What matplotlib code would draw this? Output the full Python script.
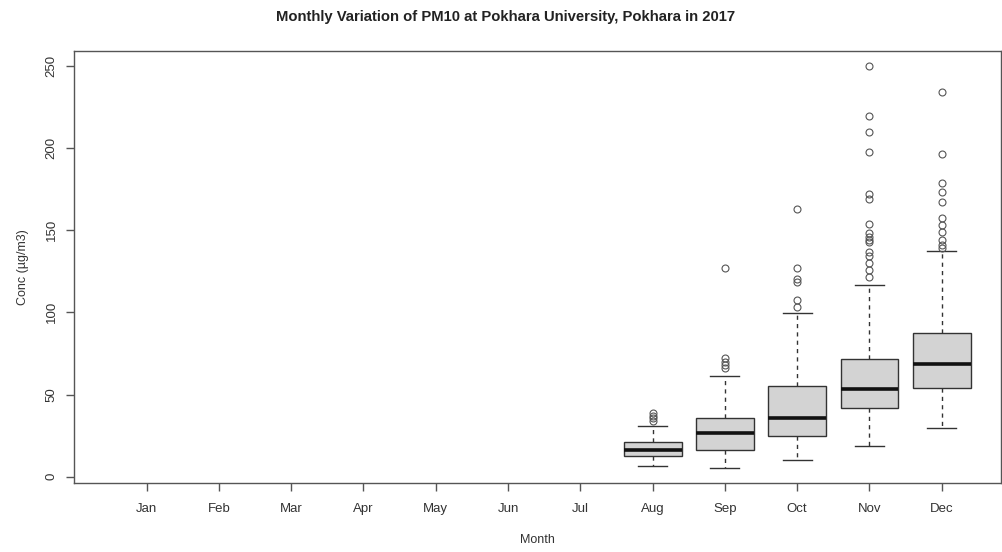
import matplotlib
matplotlib.use("Agg")
import matplotlib.pyplot as plt

plt.rcParams["font.family"] = ["Liberation Sans", "DejaVu Sans"]

months = ["Jan", "Feb", "Mar", "Apr", "May", "Jun",
          "Jul", "Aug", "Sep", "Oct", "Nov", "Dec"]

# box stats for months with data (Aug..Dec)
data_months = ["Aug", "Sep", "Oct", "Nov", "Dec"]
whis_lo = [6.7, 5.5, 10.2, 18.7, 29.5]
q1 = [12.8, 16.3, 24.8, 41.8, 54.2]
median = [16.5, 26.5, 36.0, 53.5, 68.5]
q3 = [21.0, 35.9, 55.4, 71.4, 87.3]
whis_hi = [31.0, 61.3, 99.4, 116.7, 137.4]
outliers = [
    [34, 35.5, 37, 39],
    [66, 68, 70, 72, 127],
    [103.5, 107.5, 118.7, 120, 126.8, 162.8],
    [121.7, 125.8, 130, 134, 136.6, 143, 144, 146, 148, 153.6,
     169, 171.9, 197.8, 209.6, 219.3, 250],
    [139.4, 141, 144.1, 148.8, 153.2, 157.6, 167.4, 173.1, 178.6,
     196.6, 234.3],
]

stats = []
for i, m in enumerate(data_months):
    stats.append({
        "label": m,
        "whislo": whis_lo[i], "q1": q1[i], "med": median[i],
        "q3": q3[i], "whishi": whis_hi[i], "fliers": outliers[i],
    })
positions = [months.index(m) + 1 for m in data_months]

fig = plt.figure(figsize=(10.03, 5.52), dpi=100)
ax = fig.add_axes([0.0741, 0.1245, 0.9239, 0.7831])

edge = "#333333"
ax.bxp(
    stats, positions=positions, widths=0.8, patch_artist=True,
    boxprops=dict(facecolor="#d3d3d3", edgecolor=edge, linewidth=1.0),
    medianprops=dict(color="#111111", linewidth=2.6, solid_capstyle="butt"),
    whiskerprops=dict(color=edge, linewidth=1.0, linestyle=(0, (3, 3))),
    capprops=dict(color=edge, linewidth=1.0),
    flierprops=dict(marker="o", markersize=5, markerfacecolor="none",
                    markeredgecolor="#555555", markeredgewidth=0.8),
    capwidths=0.4,
)

ax.set_xlim(0, 12.82)
ax.set_ylim(-4, 259)
ax.set_xticks(range(1, 13))
ax.set_xticklabels(months)
ax.set_yticks([0, 50, 100, 150, 200, 250])
ax.set_yticklabels(["0", "50", "100", "150", "200", "250"], rotation=90,
                   va="center")

for s in ["top", "right", "left", "bottom"]:
    ax.spines[s].set_color("#555555")
    ax.spines[s].set_linewidth(1.0)
ax.tick_params(colors="#555555", labelcolor="#333333", labelsize=9.5,
               length=6, width=1.0)
ax.tick_params(axis="x", pad=8)
ax.tick_params(axis="y", pad=6)

ax.set_xlabel("Month", fontsize=9, color="#333333", labelpad=14)
ax.set_ylabel("Conc (\u00b5g/m3)", fontsize=9, color="#333333", labelpad=12)
fig.text(0.504, 0.969, "Monthly Variation of PM10 at Pokhara University, Pokhara in 2017",
         ha="center", va="center", fontsize=10.7, fontweight="bold", color="#222222")

fig.savefig("out.png", dpi=100)
plt.close(fig)
